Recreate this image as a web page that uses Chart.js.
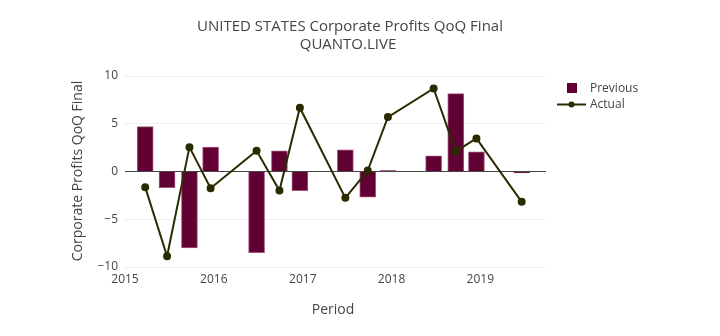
<!DOCTYPE html>
<html><head><meta charset="utf-8">
<script src="https://cdn.jsdelivr.net/npm/chart.js@4.4.1/dist/chart.umd.min.js"></script>
<style>html,body{margin:0;padding:0;background:#fff}#wrap{width:720px;height:336px}</style>
</head><body><div id="wrap"><canvas id="c" width="720" height="336"></canvas></div>
<script>
// ---- data ----
const periods = ['2015-03-25','2015-06-23','2015-09-23','2015-12-19','2016-06-25','2016-09-27','2016-12-20',
                 '2017-06-25','2017-09-25','2017-12-17','2018-06-23','2018-09-22','2018-12-16','2019-06-20'];
const previousValues = [4.7, -1.7, -8.0, 2.55, -8.5, 2.17, -2.0, 2.27, -2.7, 0.1, 1.65, 8.15, 2.06, -0.14];
const actualValues = [-1.64, -8.88, 2.55, -1.75, 2.17, -2.0, 6.68, -2.76, 0.1, 5.7, 8.7, 2.1, 3.46, -3.18];
const yTicks = [-10, -5, 0, 5, 10];
const xTickYears = [2015, 2016, 2017, 2018, 2019];
const xRange = ['2015-01-01', '2019-09-28'];
const titleLines = ['UNITED STATES Corporate Profits QoQ Final', 'QUANTO.LIVE'];
const yTitle = 'Corporate Profits QoQ Final';
const xTitle = 'Period';
const seriesNames = ['Previous', 'Actual'];

const ts = s => Date.parse(s + 'T00:00:00Z');
const FONT = '"Open Sans", "Noto Sans", sans-serif';
const BAR = '#600033', LINE = '#2b2b00', TXT = '#444';

const textPlugin = {
  id: 'texts',
  afterDraw(chart) {
    const ctx = chart.ctx;
    ctx.save();
    ctx.fillStyle = TXT;
    ctx.textAlign = 'center';
    ctx.textBaseline = 'middle';
    ctx.font = '15px ' + FONT;
    ctx.fillText(titleLines[0], 350, 26.5);
    ctx.fillText(titleLines[1], 348, 45);
    ctx.font = '14px ' + FONT;
    ctx.fillText(xTitle, 333, 310);
    ctx.save();
    ctx.translate(78, 171);
    ctx.rotate(-Math.PI / 2);
    ctx.fillText(yTitle, 0, 0);
    ctx.restore();
    // legend
    ctx.font = '12px ' + FONT;
    ctx.textAlign = 'left';
    ctx.fillStyle = BAR;
    ctx.fillRect(567, 83, 10, 10);
    ctx.strokeStyle = LINE; ctx.lineWidth = 2;
    ctx.beginPath(); ctx.moveTo(557, 104.5); ctx.lineTo(586, 104.5); ctx.stroke();
    ctx.fillStyle = LINE;
    ctx.beginPath(); ctx.arc(571.5, 104.5, 3, 0, Math.PI * 2); ctx.fill();
    ctx.fillStyle = TXT;
    ctx.fillText(seriesNames[0], 590, 88.5);
    ctx.fillText(seriesNames[1], 590, 104.5);
    ctx.restore();
  }
};

function build() {
  new Chart(document.getElementById('c'), {
    type: 'bar',
    data: {
      datasets: [
        {
          type: 'line', label: seriesNames[1],
          data: periods.map((p, i) => ({x: ts(p), y: actualValues[i]})),
          borderColor: LINE, backgroundColor: LINE, borderWidth: 2,
          pointRadius: 3, pointHoverRadius: 3, tension: 0, order: 0
        },
        {
          type: 'bar', label: seriesNames[0],
          data: periods.map((p, i) => ({x: ts(p), y: previousValues[i]})),
          backgroundColor: BAR, borderColor: '#a3557c', borderWidth: 1,
          barThickness: 16, order: 1
        }
      ]
    },
    options: {
      responsive: false, animation: false, devicePixelRatio: 1,
      layout: {padding: {left: 0, right: 174, top: 76, bottom: 0}},
      plugins: {legend: {display: false}, title: {display: false}, tooltip: {enabled: false}},
      scales: {
        x: {
          type: 'linear', min: ts(xRange[0]), max: ts(xRange[1]), offset: false,
          afterFit(s) { s.height = 69; },
          afterBuildTicks(s) { s.ticks = xTickYears.map(y => ({value: Date.UTC(y, 0, 1)})); },
          ticks: {
            callback: v => String(new Date(v).getUTCFullYear()),
            color: TXT, font: {family: FONT, size: 12}, padding: 5, maxRotation: 0, autoSkip: false
          },
          grid: {display: false, drawTicks: false},
          border: {display: false}
        },
        y: {
          min: -10, max: 10,
          afterFit(s) { s.width = 125; },
          afterBuildTicks(s) { s.ticks = yTicks.map(v => ({value: v})); },
          ticks: {
            callback: v => (v < 0 ? '\u2212' + Math.abs(v) : String(v)),
            color: TXT, font: {family: FONT, size: 12}, padding: 7
          },
          grid: {
            drawTicks: false,
            color: c => (c.tick && c.tick.value === 0 ? '#444' : '#eeeeee'),
            lineWidth: 1
          },
          border: {display: false}
        }
      }
    },
    plugins: [textPlugin]
  });
}
if (document.fonts && document.fonts.load) {
  Promise.all([document.fonts.load('12px "Open Sans"'), document.fonts.load('15px "Open Sans"')]).then(build, build);
} else build();
</script>
</body></html>
